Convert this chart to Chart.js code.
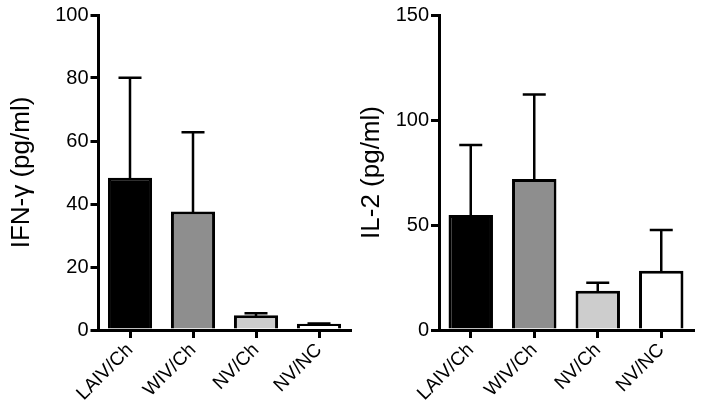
<!DOCTYPE html>
<html>
<head>
<meta charset="utf-8">
<script src="https://cdn.jsdelivr.net/npm/chart.js@4.4.1/dist/chart.umd.min.js"></script>
<style>
  html, body { margin: 0; padding: 0; background: #fff; }
  body { width: 701px; height: 410px; position: relative; overflow: hidden; }
  .box { position: absolute; top: 0; height: 410px; }
  #b1 { left: 0; width: 356px; }
  #b2 { left: 350px; width: 351px; }
</style>
</head>
<body>
<div class="box" id="b1"><canvas id="c1"></canvas></div>
<div class="box" id="b2"><canvas id="c2"></canvas></div>
<script>
const categories = ["LAIV/Ch", "WIV/Ch", "NV/Ch", "NV/NC"];
const barColors = ["#000000", "#8e8e8e", "#cdcdcd", "#ffffff"];

const ifnMeans = [48.3, 37.6, 4.7, 2.0];
const ifnErrors = [31.8, 25.2, 0.6, 0.1];
const ifnTicks = [0, 20, 40, 60, 80, 100];

const il2Means = [54.8, 71.9, 18.7, 28.2];
const il2Errors = [33.3, 40.3, 3.8, 19.4];
const il2Ticks = [0, 50, 100, 150];

const FONT = "'Liberation Sans', Arial, Helvetica, sans-serif";

const errorBarPlugin = {
  id: 'errorBars',
  afterDatasetsDraw(chart) {
    const ctx = chart.ctx;
    const yScale = chart.scales.y;
    const meta = chart.getDatasetMeta(0);
    const ds = chart.data.datasets[0];
    ctx.save();
    ctx.strokeStyle = '#000';
    ctx.lineWidth = 2.5;
    meta.data.forEach((el, i) => {
      const top = yScale.getPixelForValue(ds.data[i] + ds.errors[i]);
      const x = el.x;
      ctx.beginPath();
      ctx.moveTo(x, el.y + 1);
      ctx.lineTo(x, top);
      ctx.moveTo(x - 11.5, top);
      ctx.lineTo(x + 11.5, top);
      ctx.stroke();
    });
    ctx.restore();
  }
};

function makeChart(id, means, errors, ticks, title, yWidth, padRight) {
  const maxV = ticks[ticks.length - 1];
  return new Chart(document.getElementById(id), {
    type: 'bar',
    data: {
      labels: categories,
      datasets: [{
        data: means,
        errors: errors,
        backgroundColor: barColors,
        borderColor: '#000',
        borderWidth: 3,
        borderSkipped: 'start',
        barPercentage: 0.7,
        categoryPercentage: 1.0
      }]
    },
    options: {
      responsive: true,
      maintainAspectRatio: false,
      animation: false,
      layout: { padding: { top: 15, right: padRight, left: 0, bottom: 0 } },
      plugins: { legend: { display: false }, tooltip: { enabled: false } },
      scales: {
        x: {
          offset: true,
          grid: { display: true, drawOnChartArea: false, offset: false, lineWidth: 3, color: '#000', tickLength: 8, tickWidth: 3, tickColor: '#000' },
          border: { display: true, width: 3, color: '#000' },
          ticks: { color: '#000', font: { family: FONT, size: 19 }, minRotation: 45, maxRotation: 45, padding: 1 },
          afterFit(s) { s.height = 80; }
        },
        y: {
          min: 0,
          max: maxV,
          afterBuildTicks(s) { s.ticks = ticks.map(v => ({ value: v })); },
          grid: { display: true, drawOnChartArea: false, lineWidth: 3, color: '#000', tickLength: 8, tickWidth: 3, tickColor: '#000' },
          border: { display: true, width: 3, color: '#000' },
          ticks: { color: '#000', font: { family: FONT, size: 20 }, padding: 2 },
          title: { display: true, text: title, color: '#000', font: { family: FONT, size: 26 }, padding: { top: 6, bottom: 0 } },
          afterFit(s) { s.width = yWidth; }
        }
      }
    },
    plugins: [errorBarPlugin]
  });
}

makeChart('c1', ifnMeans, ifnErrors, ifnTicks, 'IFN-γ (pg/ml)', 98.5, 5.5);
makeChart('c2', il2Means, il2Errors, il2Ticks, 'IL-2 (pg/ml)', 89, 8);
</script>
</body>
</html>
